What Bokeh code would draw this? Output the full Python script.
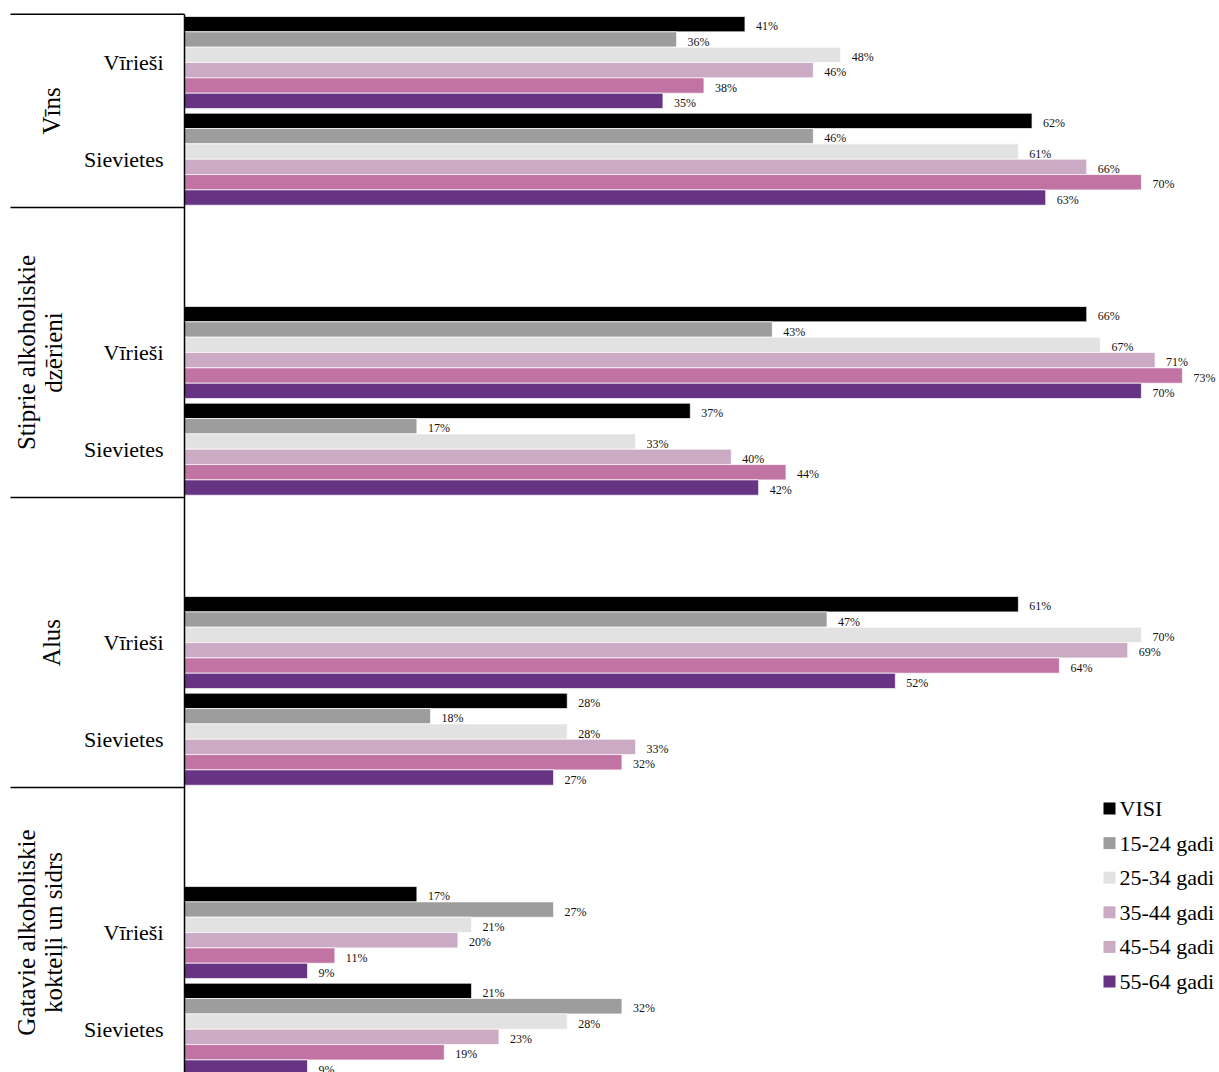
from bokeh.plotting import figure
from bokeh.models import Range1d, ColumnDataSource
from bokeh.core.properties import value
from bokeh.embed import file_html
from bokeh.resources import INLINE
import math

# ---- data -------------------------------------------------------------
drinks = ["Vīns", "Stiprie alkoholiskie dzērieni", "Alus",
          "Gatavie alkoholiskie kokteiļi un sidrs"]
drink_lines = [["Vīns"],
               ["Stiprie alkoholiskie", "dzērieni"],
               ["Alus"],
               ["Gatavie alkoholiskie", "kokteiļi un sidrs"]]
genders = ["Vīrieši", "Sievietes"]
age_groups = ["VISI", "15-24 gadi", "25-34 gadi", "35-44 gadi",
              "45-54 gadi", "55-64 gadi"]

vins_virriesi = [41, 36, 48, 46, 38, 35]
vins_sievietes = [62, 46, 61, 66, 70, 63]
stiprie_virriesi = [66, 43, 67, 71, 73, 70]
stiprie_sievietes = [37, 17, 33, 40, 44, 42]
alus_virriesi = [61, 47, 70, 69, 64, 52]
alus_sievietes = [28, 18, 28, 33, 32, 27]
gatavie_virriesi = [17, 27, 21, 20, 11, 9]
gatavie_sievietes = [21, 32, 28, 23, 19, 9]

series = [
    [vins_virriesi, vins_sievietes],
    [stiprie_virriesi, stiprie_sievietes],
    [alus_virriesi, alus_sievietes],
    [gatavie_virriesi, gatavie_sievietes],
]

bar_colors = ["#000000", "#9d9d9d", "#e2e2e2", "#cbaac4", "#c174a3", "#673383"]
legend_colors = ["#000000", "#9d9d9d", "#e2e2e2", "#cbaac4", "#cbaac4", "#673383"]

# ---- geometry ---------------------------------------------------------
W, H = 1219, 1072
X0, PX_PER_PCT = 184.0, 13.67      # pixel of 0 % and pixels per percent
Y0, PX_PER_SLOT = 13.7, 96.67      # pixel of slot 0 top, pixels per slot
FILL = 0.952                        # share of a slot taken by its 6 bars


def dx(px):
    return (px - X0) / PX_PER_PCT


def dy(py):
    return (py - Y0) / PX_PER_SLOT


SERIF = value("Liberation Serif")

p = figure(width=W, height=H, output_backend="svg", toolbar_location=None,
           x_range=Range1d(dx(0), dx(W)), y_range=Range1d(dy(H), dy(0)),
           x_axis_location=None, y_axis_location=None, min_border=0)
p.grid.visible = False
p.outline_line_color = None
p.background_fill_color = "white"
p.border_fill_color = "white"

# ---- bars -------------------------------------------------------------
nb = len(age_groups)
bh = FILL / nb
pad = (1 - FILL) / 2
bar = dict(y=[], right=[], color=[], label=[])
for i, pair in enumerate(series):
    for g, vals in enumerate(pair):
        slot = 3 * i + g
        for j, v in enumerate(vals):
            bar["y"].append(slot + pad + (j + 0.5) * bh)
            bar["right"].append(v)
            bar["color"].append(bar_colors[j])
            bar["label"].append(f"{v}%")
src = ColumnDataSource(bar)

p.hbar(y="y", left=0, right="right", height=bh, fill_color="color",
       line_color="white", line_width=0.7, source=src)
p.text(x="right", y="y", text="label", source=src, x_offset=11, y_offset=2,
       text_font=SERIF, text_font_size="12px", text_baseline="middle",
       text_align="left", text_color="#111111")

# ---- category frame: separators and axis line --------------------------
tops = [max(0, 3 * i - 1) for i in range(len(drinks))]
bottoms = [3 * i + 2 for i in range(len(drinks))]
sep_y = sorted(set(tops + bottoms))
p.segment(x0=[dx(10)] * len(sep_y), x1=[0] * len(sep_y), y0=sep_y, y1=sep_y,
          line_color="black", line_width=1.5)
p.segment(x0=[0], x1=[0], y0=[0], y1=[dy(H + 20)], line_color="black",
          line_width=1.5)

# gender labels
gx, gy, gt = [], [], []
for i in range(len(drinks)):
    for g, name in enumerate(genders):
        gx.append(dx(163))
        gy.append(3 * i + g + 0.5)
        gt.append(name)
p.text(x=gx, y=gy, text=gt, text_font=SERIF, text_font_size="22px",
       text_align="right", text_baseline="middle", text_color="black")

# drink labels, rotated
for i, lines in enumerate(drink_lines):
    cy = (tops[i] + bottoms[i]) / 2
    if len(lines) == 1:
        xs = [dx(51)]
    else:
        xs = [dx(26), dx(53)]
    p.text(x=xs, y=[cy] * len(lines), text=lines, angle=math.pi / 2,
           text_font=SERIF, text_font_size="25px", text_align="center",
           text_baseline="middle", text_color="black")

# ---- legend -----------------------------------------------------------
leg_y = [dy(808 + 34.6 * k) for k in range(nb)]
p.rect(x=[dx(1109)] * nb, y=leg_y, width=12, height=12,
       width_units="screen", height_units="screen",
       fill_color=legend_colors, line_color=None)
p.text(x=[dx(1119)] * nb, y=leg_y, text=age_groups, text_font=SERIF,
       text_font_size="22px", text_align="left", text_baseline="middle",
       text_color="black")

open("out.html", "w").write(file_html(p, INLINE))
